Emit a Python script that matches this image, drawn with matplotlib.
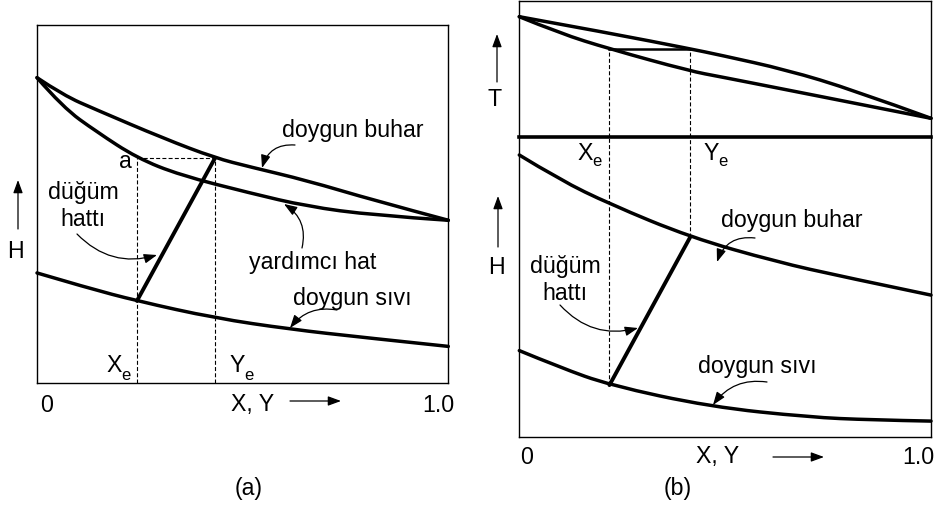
import matplotlib.pyplot as plt
from matplotlib.path import Path
from matplotlib.patches import PathPatch, FancyArrowPatch

plt.rcParams["font.family"] = ["Liberation Sans", "DejaVu Sans"]

W, H = 940, 508

# (a) enthalpy-composition diagram, composition X, Y in mole fraction
a_vap_x = [0.0, 0.064, 0.145, 0.307, 0.433, 0.518, 0.656, 0.818, 1.0]
a_vap_h = [0.853, 0.804, 0.763, 0.684, 0.629, 0.604, 0.566, 0.511, 0.455]
a_aux_x = [0.0, 0.063, 0.145, 0.243, 0.348, 0.518, 0.656, 0.818, 1.0]
a_aux_h = [0.853, 0.770, 0.702, 0.629, 0.581, 0.531, 0.494, 0.469, 0.455]
a_liq_x = [0.0, 0.121, 0.243, 0.433, 0.616, 0.793, 1.0]
a_liq_h = [0.308, 0.267, 0.230, 0.182, 0.151, 0.128, 0.103]
a_xe, a_ye = 0.243, 0.433
a_h_liq_e, a_h_vap_e = 0.230, 0.629

# (b) temperature-composition diagram above the enthalpy-composition one
b_tv_x = [0.0, 0.220, 0.415, 0.487, 0.650, 0.811, 1.0]
b_tv_t = [0.881, 0.760, 0.645, 0.600, 0.490, 0.343, 0.135]
b_tl_x = [0.0, 0.099, 0.219, 0.415, 0.487, 0.650, 0.811, 1.0]
b_tl_t = [0.881, 0.759, 0.645, 0.482, 0.441, 0.344, 0.248, 0.135]
b_hv_x = [0.0, 0.099, 0.219, 0.415, 0.625, 0.787, 1.0]
b_hv_h = [0.939, 0.856, 0.776, 0.665, 0.583, 0.533, 0.472]
b_hl_x = [0.0, 0.099, 0.219, 0.463, 0.706, 0.852, 1.0]
b_hl_h = [0.287, 0.231, 0.172, 0.100, 0.065, 0.056, 0.052]
b_xe, b_ye = 0.219, 0.415
b_t_e = 0.645
b_h_liq_e, b_h_vap_e = 0.172, 0.665

FS = 16.7
LW = 2.5
dash = dict(color="k", lw=0.8, ls=(0, (3.6, 2.0)), clip_on=False)


def box(rect):
    ax = fig.add_axes(rect)
    ax.set_xlim(0, 1)
    ax.set_ylim(0, 1)
    ax.set_xticks([])
    ax.set_yticks([])
    ax.patch.set_visible(False)
    for s in ax.spines.values():
        s.set_linewidth(1.0)
    return ax


def curve(ax, xs, ys, lw=LW):
    # smooth quadratic path through the read points
    pts = list(zip(xs, ys))
    verts, codes = [pts[0]], [Path.MOVETO]
    n = len(pts)
    for i in range(1, n - 1):
        if i < n - 2:
            end = ((pts[i][0] + pts[i + 1][0]) / 2, (pts[i][1] + pts[i + 1][1]) / 2)
        else:
            end = pts[-1]
        verts += [pts[i], end]
        codes += [Path.CURVE3, Path.CURVE3]
    ax.add_patch(PathPatch(Path(verts, codes), fill=False, lw=lw, ec="k",
                           capstyle="round", clip_on=False))


def put(s, px, py, size=FS, **kw):
    fig.text(px / W, 1 - py / H, s, ha="center", va="center",
             fontsize=size, **kw)


def sub(base, px, py):
    # letter with a small "e" subscript
    put(base, px, py)
    put("e", px + 12, py + 9, size=12)


def arrow(p0, p1, rad=0.0):
    fig.add_artist(FancyArrowPatch(
        (p0[0], H - p0[1]), (p1[0], H - p1[1]),
        transform=None,
        arrowstyle="-|>,head_length=0.6,head_width=0.22",
        connectionstyle=f"arc3,rad={rad}",
        mutation_scale=13, color="k", lw=0.9, shrinkA=0, shrinkB=0))


fig = plt.figure(figsize=(W / 100, H / 100), dpi=100)

# ---- panel (a)
ax_a = box([37 / W, 1 - 383.3 / H, 411.3 / W, 358.3 / H])
curve(ax_a, a_vap_x, a_vap_h)
curve(ax_a, a_aux_x, a_aux_h)
curve(ax_a, a_liq_x, a_liq_h)
ax_a.plot([a_xe, a_xe], [0, a_h_vap_e], **dash)
ax_a.plot([a_ye, a_ye], [0, a_h_vap_e], **dash)
ax_a.plot([a_xe, a_ye], [a_h_vap_e, a_h_vap_e], **dash)
ax_a.plot([a_xe, a_ye], [a_h_liq_e, a_h_vap_e], color="k", lw=2.8,
          solid_capstyle="round")

put("a", 125, 162)
put("düğüm", 83, 192)
put("hattı", 83, 220)
put("doygun buhar", 353, 131)
put("yardımcı hat", 313, 263)
put("doygun sıvı", 352, 298)
put("H", 15, 252)
sub("X", 114, 366)
sub("Y", 237, 366)
put("0", 47, 405)
put("X, Y", 253, 405)
put("1.0", 438, 405)
put("(a)", 249, 489)

arrow((18, 229), (18, 180))
arrow((290, 401), (341, 401))
arrow((295, 145), (262, 168), 0.4)
arrow((302, 248), (284, 204), 0.35)
arrow((337, 310), (290, 328), 0.3)
arrow((77, 234), (157, 255), 0.3)

# ---- panel (b)
ax_t = box([519.3 / W, 1 - 136.7 / H, 411.7 / W, 136.2 / H])
ax_h = box([519.3 / W, 1 - 436.7 / H, 411.7 / W, 300.0 / H])
ax_t.spines["bottom"].set_linewidth(2.6)
ax_h.spines["top"].set_visible(False)

curve(ax_t, b_tv_x, b_tv_t)
curve(ax_t, b_tl_x, b_tl_t)
ax_t.plot([b_xe, b_ye], [b_t_e, b_t_e], color="k", lw=1.8)
ax_t.plot([b_xe, b_xe], [0, b_t_e], **dash)
ax_t.plot([b_ye, b_ye], [0, b_t_e], **dash)

curve(ax_h, b_hv_x, b_hv_h)
curve(ax_h, b_hl_x, b_hl_h)
ax_h.plot([b_xe, b_xe], [b_h_liq_e, 1], **dash)
ax_h.plot([b_ye, b_ye], [b_h_vap_e, 1], **dash)
ax_h.plot([b_xe, b_ye], [b_h_liq_e, b_h_vap_e], color="k", lw=2.8,
          solid_capstyle="round")

put("T", 495, 100)
put("H", 496, 268)
sub("X", 585, 153)
sub("Y", 711, 153)
put("doygun buhar", 792, 220)
put("düğüm", 565, 266)
put("hattı", 565, 293)
put("doygun sıvı", 757, 367)
put("0", 527, 457)
put("X, Y", 718, 457)
put("1.0", 918, 457)
put("(b)", 678, 488)

arrow((497, 82), (497, 34))
arrow((498, 247), (498, 196))
arrow((773, 457), (824, 457))
arrow((755, 238), (717, 262), 0.4)
arrow((560, 305), (638, 328), 0.3)
arrow((767, 382), (713, 405), 0.3)

fig.savefig("out.png", dpi=100)
